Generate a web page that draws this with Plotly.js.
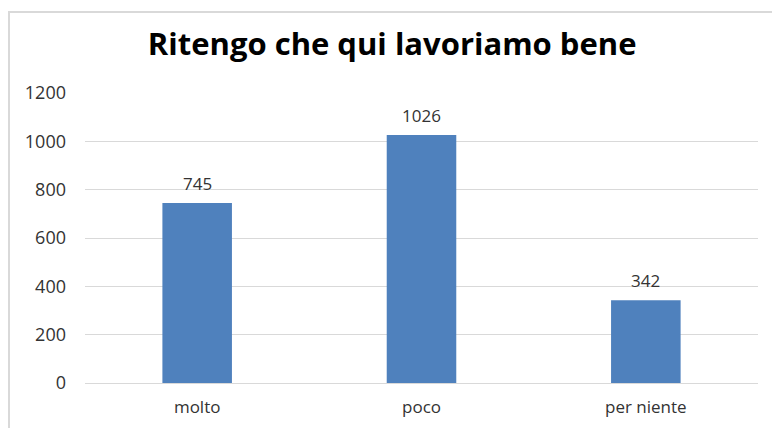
<!DOCTYPE html>
<html>
<head>
<meta charset="utf-8">
<script src="https://cdn.plot.ly/plotly-3.0.1.min.js"></script>
<style>
    body { margin: 0; background: #fff; }
    #wrap { position: relative; width: 772px; height: 428px; }
    #chart { width: 772px; height: 428px; }
    /* chart frame: only top and left edges are visible in the picture */
    #frame {
        position: absolute; left: 8px; top: 11px; right: -10px; bottom: -10px;
        border-top: 2px solid #d9d9d9; border-left: 2px solid #d9d9d9;
        pointer-events: none;
    }
</style>
</head>
<body>
<div id="wrap">
    <div id="chart"></div>
    <div id="frame"></div>
</div>
<script>
const categories = ['molto', 'poco', 'per niente'];
const values = [745, 1026, 342];
const yTicks = [0, 200, 400, 600, 800, 1000, 1200];

const trace = {
    x: categories,
    y: values,
    type: 'bar',
    marker: { color: '#4f81bd' },
    hoverinfo: 'x+y'
};

// value labels above the bars, a bit further up than textposition:'outside' gives
const labels = categories.map((c, i) => ({
    x: c,
    y: values[i],
    xref: 'x',
    yref: 'y',
    text: String(values[i]),
    showarrow: false,
    yanchor: 'bottom',
    yshift: 6,
    font: { family: '"Open Sans", sans-serif', size: 17, color: '#333333' }
}));

const layout = {
    width: 772,
    height: 428,
    paper_bgcolor: '#ffffff',
    plot_bgcolor: '#ffffff',
    margin: { l: 85, r: 14, t: 93, b: 45 },
    showlegend: false,
    bargap: 0.69,
    font: { family: '"Open Sans", sans-serif', color: '#333333' },
    title: {
        text: '<b>Ritengo che qui lavoriamo bene</b>',
        font: { family: '"Open Sans", sans-serif', size: 31, color: '#000000' },
        x: 0.508,
        xanchor: 'center',
        y: 0.897,
        yanchor: 'middle'
    },
    annotations: labels,
    xaxis: {
        showgrid: false,
        showline: false,
        ticks: '',
        tickfont: { size: 17, color: '#333333' },
        ticklabelstandoff: 12
    },
    yaxis: {
        range: [0, 1200],
        tickvals: yTicks,
        gridcolor: '#d9d9d9',
        gridwidth: 1,
        zeroline: true,
        zerolinecolor: '#d9d9d9',
        zerolinewidth: 1,
        showline: false,
        ticks: '',
        tickfont: { size: 18, color: '#333333' },
        ticklabelstandoff: 18
    }
};

Plotly.newPlot('chart', [trace], layout, { displayModeBar: false, staticPlot: true });
</script>
</body>
</html>
